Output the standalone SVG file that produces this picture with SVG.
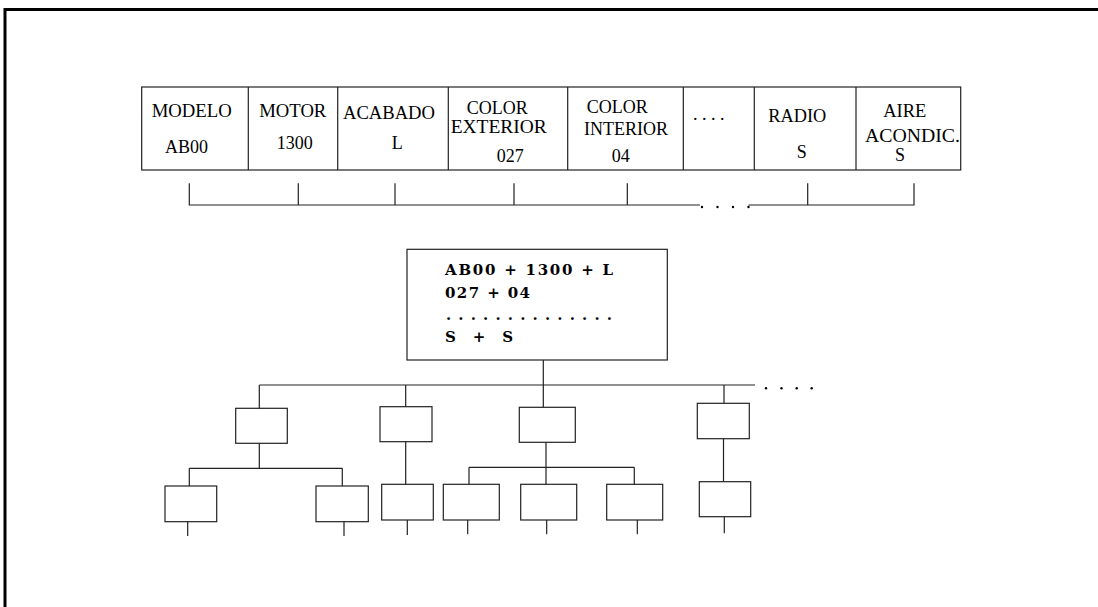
<svg xmlns="http://www.w3.org/2000/svg" width="1098" height="607" viewBox="0 0 1098 607">
<style>
.frame{stroke:#000;stroke-width:3;fill:none}
.box{fill:#fff;stroke:#222;stroke-width:1.2}
.ln{stroke:#222;stroke-width:1.2;fill:none}
.t{font-family:"Liberation Serif","Times New Roman",serif;font-size:18px;fill:#000}
.m{font-family:"DejaVu Serif","Liberation Serif",serif;font-weight:bold;font-size:15px;fill:#000}
.dot{fill:#000}
</style>
<rect width="1098" height="607" fill="#fff"/>
<path class="frame" d="M5,607 V9.5 H1098"/>

<g id="table">
  <rect class="box" x="141.7" y="87" width="819" height="83"/>
  <path class="ln" d="M248.3,87V170M337.7,87V170M448.3,87V170M567.7,87V170M683.3,87V170M754.3,87V170M856,87V170"/>
</g>
<g id="cell-modelo">
  <text class="t" x="151.7" y="116.7" textLength="80" lengthAdjust="spacingAndGlyphs">MODELO</text>
  <text class="t" x="165" y="152.7">AB00</text>
</g>
<g id="cell-motor">
  <text class="t" x="259.3" y="117" textLength="67" lengthAdjust="spacingAndGlyphs">MOTOR</text>
  <text class="t" x="276.7" y="149.3">1300</text>
</g>
<g id="cell-acabado">
  <text class="t" x="343" y="119" textLength="92" lengthAdjust="spacingAndGlyphs">ACABADO</text>
  <text class="t" x="391.7" y="149.3">L</text>
</g>
<g id="cell-color-ext">
  <text class="t" x="466.7" y="114">COLOR</text>
  <text class="t" x="450.7" y="133" textLength="96" lengthAdjust="spacingAndGlyphs">EXTERIOR</text>
  <text class="t" x="496.7" y="161.7">027</text>
</g>
<g id="cell-color-int">
  <text class="t" x="586.7" y="113">COLOR</text>
  <text class="t" x="584" y="135" textLength="84" lengthAdjust="spacingAndGlyphs">INTERIOR</text>
  <text class="t" x="611.7" y="161.7">04</text>
</g>
<g id="cell-dots">
  <text class="t" x="693" y="120" xml:space="preserve">. . . .</text>
</g>
<g id="cell-radio">
  <text class="t" x="768.3" y="121.7" textLength="58" lengthAdjust="spacingAndGlyphs">RADIO</text>
  <text class="t" x="796.7" y="158.3">S</text>
</g>
<g id="cell-aire">
  <text class="t" x="883.3" y="116.7" textLength="43" lengthAdjust="spacingAndGlyphs">AIRE</text>
  <text class="t" x="865" y="142" textLength="95" lengthAdjust="spacingAndGlyphs">ACONDIC.</text>
  <text class="t" x="895" y="161">S</text>
</g>

<g id="combo">
  <rect class="box" x="407" y="249.3" width="260.3" height="110.7"/>
  <text class="m" x="445" y="275" textLength="168" lengthAdjust="spacing" xml:space="preserve">AB00 + 1300 + L</text>
  <text class="m" x="445" y="298.3" textLength="85" lengthAdjust="spacing" xml:space="preserve">027 + 04</text>
  <text class="m" x="446" y="320" textLength="166" lengthAdjust="spacing" xml:space="preserve">. . . . . . . . . . . . . .</text>
  <text class="m" x="445" y="341.7" textLength="68" lengthAdjust="spacing" xml:space="preserve">S + S</text>
</g>

<g id="n-a"><rect class="box" x="235.7" y="408.3" width="51.6" height="35"/></g>
<g id="n-a1"><rect class="box" x="165" y="486" width="51.7" height="35.7"/></g>
<g id="n-a2"><rect class="box" x="316" y="486" width="52.3" height="35.7"/></g>
<g id="n-b"><rect class="box" x="380" y="406.7" width="52" height="35"/></g>
<g id="n-b1"><rect class="box" x="381.7" y="484.3" width="51.6" height="35.7"/></g>
<g id="n-c"><rect class="box" x="519.3" y="407.3" width="56" height="35"/></g>
<g id="n-c1"><rect class="box" x="443.3" y="484.3" width="56" height="35.7"/></g>
<g id="n-c2"><rect class="box" x="520.7" y="484.3" width="56" height="35.7"/></g>
<g id="n-c3"><rect class="box" x="606.7" y="484.3" width="56" height="35.7"/></g>
<g id="n-d"><rect class="box" x="697.3" y="403.3" width="52" height="35.4"/></g>
<g id="n-d1"><rect class="box" x="699.3" y="481.7" width="51.4" height="35"/></g>

<g id="connectors">
  <path class="ln" d="M189.3,183.3V205H700M748.5,205H914V183.3M298.3,183.3V205M395,183.3V205M514,183.3V205M627.3,183.3V205M807.7,183.3V205"/>
  <circle class="dot" cx="702" cy="207" r="1.2"/>
  <circle class="dot" cx="717.5" cy="207" r="1.2"/>
  <circle class="dot" cx="733" cy="207" r="1.2"/>
  <circle class="dot" cx="748.5" cy="207" r="1.2"/>
  <path class="ln" d="M543.3,360V407.3M259.3,385H755M259.3,385V408.3M405.7,385V406.7M724,385V403.3"/>
  <circle class="dot" cx="766" cy="388.3" r="1.2"/>
  <circle class="dot" cx="781.5" cy="388.3" r="1.2"/>
  <circle class="dot" cx="796.7" cy="388.3" r="1.2"/>
  <circle class="dot" cx="811.7" cy="388.3" r="1.2"/>
  <path class="ln" d="M259.3,443.3V468.3M189.3,468.3H342.3M189.3,468.3V486M342.3,468.3V486M187.7,521.7V536M344,521.7V536"/>
  <path class="ln" d="M405.7,441.7V484.3M407.3,520V535"/>
  <path class="ln" d="M546,442.3V484.3M469,467.3H634.3M469,467.3V484.3M634.3,467.3V484.3M467.7,520V534.3M546.7,520V534.3M637.3,520V534.3"/>
  <path class="ln" d="M723.5,438.7V481.7M724.3,516.7V533.3"/>
</g>
</svg>
